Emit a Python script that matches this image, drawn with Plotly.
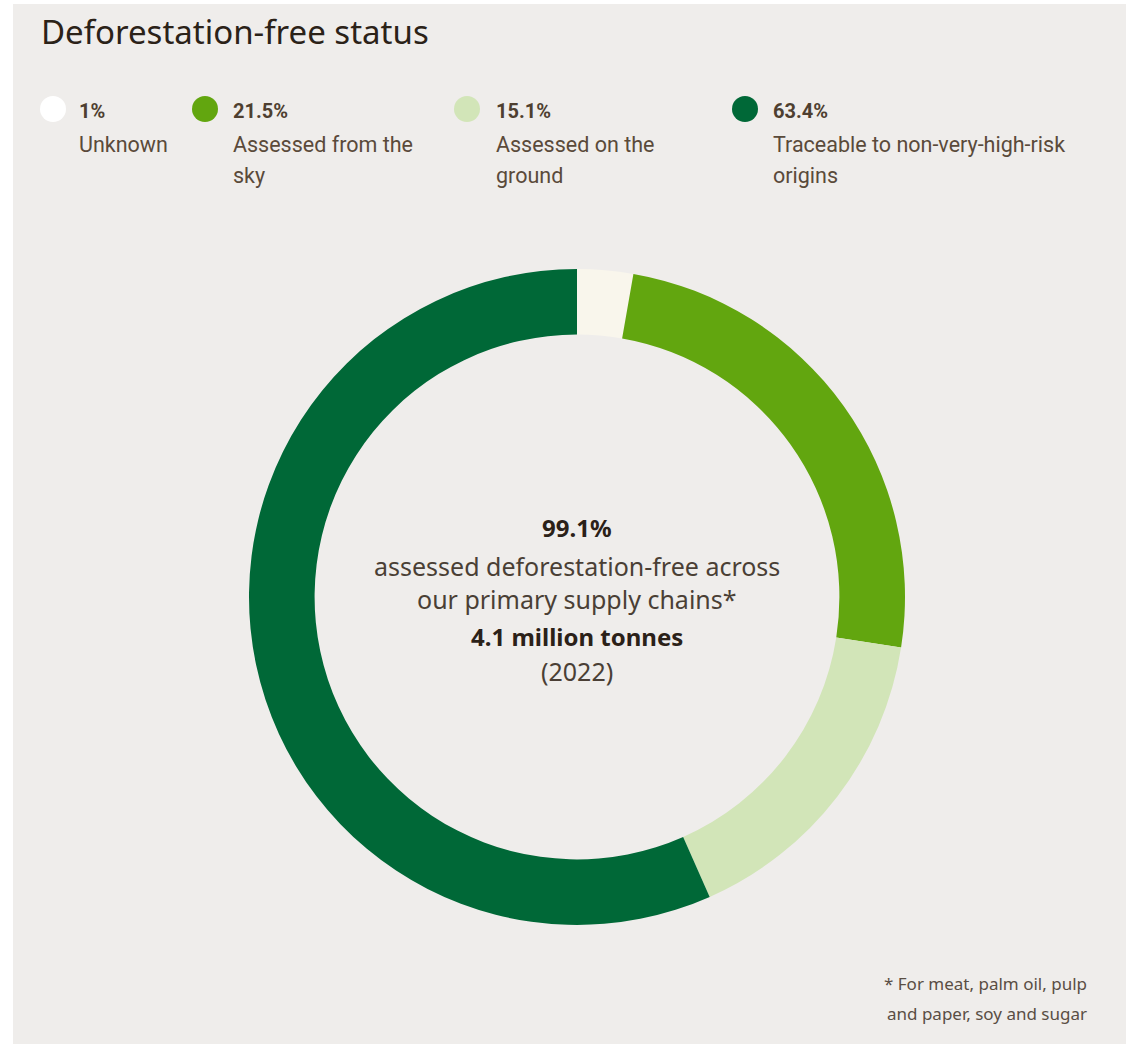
import plotly.graph_objects as go

# ---- data ----
categories = ["Unknown", "Assessed from the sky", "Assessed on the ground",
              "Traceable to non-very-high-risk origins"]
legend_pct = ["1%", "21.5%", "15.1%", "63.4%"]
legend_lines = [["Unknown"], ["Assessed from the", "sky"], ["Assessed on the", "ground"],
                ["Traceable to non-very-high-risk", "origins"]]
# slice sizes as drawn in the picture (share of the ring, %)
slice_values = [2.75, 24.7, 15.9, 56.6]
slice_colors = ["#f9f6ec", "#62a60f", "#d2e5b8", "#006837"]
dot_colors = ["#ffffff", "#62a60f", "#d2e5b8", "#006837"]
center_lines = [("99.1%", True), ("assessed deforestation-free across", False),
                ("our primary supply chains*", False), ("4.1 million tonnes", True),
                ("(2022)", False)]
footnote = ["* For meat, palm oil, pulp", "and paper, soy and sugar"]

W, H = 1126, 1044
def px(x): return x / W
def py(y): return 1 - y / H

cx, cy, R = 577, 597, 328

fig = go.Figure()
fig.add_trace(go.Pie(
    labels=categories, values=slice_values, sort=False, direction="clockwise",
    rotation=0, hole=0.8, textinfo="none", hoverinfo="label+percent",
    marker=dict(colors=slice_colors, line=dict(width=0)),
    domain=dict(x=[px(cx - R), px(cx + R)], y=[py(cy + R), py(cy - R)]),
    showlegend=False,
))

shapes = [dict(type="rect", xref="paper", yref="paper", x0=px(13), x1=1, y0=0, y1=py(4),
               fillcolor="#efedeb", line=dict(width=0), layer="below")]
annotations = []

annotations.append(dict(text="Deforestation-free status", x=px(39), y=py(31), xref="paper",
                        yref="paper", xanchor="left", yanchor="middle", showarrow=False,
                        font=dict(family="Noto Sans", size=33, color="#2b2218")))

dot_x = [53, 205, 467, 745]
txt_x = [77, 231, 494, 771]
r = 13
for i in range(4):
    shapes.append(dict(type="circle", xref="paper", yref="paper",
                       x0=px(dot_x[i] - r), x1=px(dot_x[i] + r),
                       y0=py(109 + r), y1=py(109 - r),
                       fillcolor=dot_colors[i], line=dict(width=0)))
    annotations.append(dict(text="<b>" + legend_pct[i] + "</b>", x=px(txt_x[i]), y=py(111),
                            xref="paper", yref="paper", xanchor="left", yanchor="middle",
                            showarrow=False,
                            font=dict(family="Roboto", size=20, color="#4e3f30")))
    for j, line in enumerate(legend_lines[i]):
        annotations.append(dict(text=line, x=px(txt_x[i]), y=py(144 + 32 * j),
                                xref="paper", yref="paper", xanchor="left", yanchor="middle",
                                showarrow=False,
                                font=dict(family="Roboto", size=21.5, color="#5a4a3a")))

center_y = [527, 566, 599, 636, 671]
for (t, bold), yy in zip(center_lines, center_y):
    annotations.append(dict(text=("<b>%s</b>" % t) if bold else t, x=px(cx), y=py(yy),
                            xref="paper", yref="paper", xanchor="center", yanchor="middle",
                            showarrow=False,
                            font=dict(family="Noto Sans", size=24 if bold else 25,
                                      color="#2b2118" if bold else "#4a3f35")))

for j, t in enumerate(footnote):
    annotations.append(dict(text=t, x=px(1089), y=py(983 + 30 * j), xref="paper",
                            yref="paper", xanchor="right", yanchor="middle", showarrow=False,
                            font=dict(family="Noto Sans", size=17, color="#5a4e44")))

fig.update_layout(width=W, height=H, margin=dict(l=0, r=0, t=0, b=0),
                  paper_bgcolor="#ffffff", plot_bgcolor="#ffffff",
                  shapes=shapes, annotations=annotations)
fig.write_html("out.html")
